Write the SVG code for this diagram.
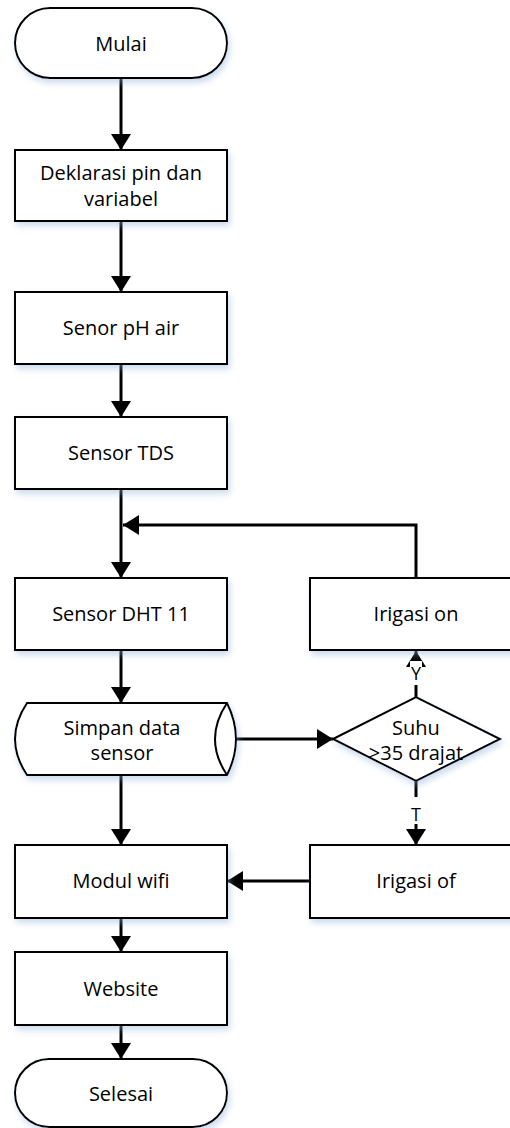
<svg xmlns="http://www.w3.org/2000/svg" width="510" height="1128" viewBox="0 0 510 1128">
<defs>
<filter id="sh" x="-10%" y="-10%" width="130%" height="140%">
<feDropShadow dx="2" dy="4" stdDeviation="3" flood-color="#8fb0d8" flood-opacity="0.45"/>
</filter>
<marker id="ah" markerWidth="16" markerHeight="20" refX="16" refY="10" orient="auto" markerUnits="userSpaceOnUse">
<path d="M0,0 L16,10 L0,20 Z" fill="#000"/>
</marker>
</defs>
<style>
.n{fill:#fff;stroke:#000;stroke-width:2;filter:url(#sh)}
.c{fill:none;stroke:#000;stroke-width:3;marker-end:url(#ah)}
text{font-family:"Open Sans","Liberation Sans",sans-serif;font-size:20px;fill:#000;text-anchor:middle}
.lb{font-size:18px}
</style>
<g id="connectors">
<path class="c" d="M121,78 V150"/>
<path class="c" d="M121,221 V292"/>
<path class="c" d="M121,364 V417"/>
<path class="c" d="M121,489 V578"/>
<path class="c" d="M416,578 V525 H123"/>
<path class="c" d="M121,650 V703"/>
<path class="c" d="M236,739 H333"/>
<path class="c" d="M121,775 V845"/>
<path class="c" d="M416,697 V651"/>
<path class="c" d="M416,781 V845"/>
<path class="c" d="M310,881 H227"/>
<path class="c" d="M121,918 V952"/>
<path class="c" d="M121,1025 V1059"/>
<rect x="410" y="661" width="12" height="24" fill="#fff"/>
<text class="lb" x="416" y="680">Y</text>
<rect x="409" y="797" width="14" height="27" fill="#fff"/>
<text class="lb" x="416" y="821">T</text>
</g>
<g id="mulai"><rect class="n" x="15" y="8" width="212" height="70" rx="35"/><text x="121" y="51">Mulai</text></g>
<g id="deklarasi"><rect class="n" x="15" y="150" width="212" height="71"/><text x="121" y="180">Deklarasi pin dan</text><text x="121" y="206">variabel</text></g>
<g id="ph"><rect class="n" x="15" y="292" width="212" height="72"/><text x="121" y="335">Senor pH air</text></g>
<g id="tds"><rect class="n" x="15" y="417" width="212" height="72"/><text x="121" y="460">Sensor TDS</text></g>
<g id="dht"><rect class="n" x="15" y="578" width="212" height="72"/><text x="121" y="621">Sensor DHT 11</text></g>
<g id="irigasi-on"><rect class="n" x="310" y="578" width="214" height="72"/><text x="416" y="621">Irigasi on</text></g>
<g id="simpan"><path class="n" d="M27,703 H227 Q245,739 227,775 H27 Q3,739 27,703 Z"/><path d="M227,703 Q203,739 227,775" fill="none" stroke="#000" stroke-width="2"/><text x="122" y="735">Simpan data</text><text x="122" y="760">sensor</text></g>
<g id="suhu"><path class="n" d="M333,739 L416,697 L500,739 L416,781 Z"/><text x="416" y="735">Suhu</text><text x="416" y="760">&gt;35 drajat</text></g>
<g id="modul"><rect class="n" x="15" y="845" width="212" height="73"/><text x="121" y="888">Modul wifi</text></g>
<g id="irigasi-of"><rect class="n" x="310" y="845" width="214" height="73"/><text x="416" y="888">Irigasi of</text></g>
<g id="website"><rect class="n" x="15" y="952" width="212" height="73"/><text x="121" y="996">Website</text></g>
<g id="selesai"><rect class="n" x="15" y="1059" width="212" height="68" rx="34"/><text x="121" y="1101">Selesai</text></g>
</svg>
